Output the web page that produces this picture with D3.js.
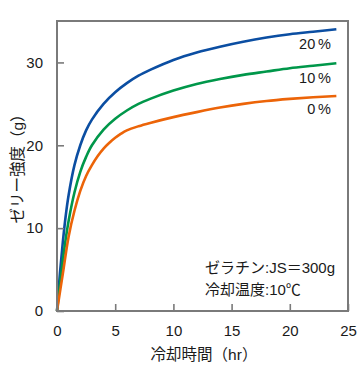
<!DOCTYPE html>
<html><head><meta charset="utf-8">
<script src="https://cdn.jsdelivr.net/npm/d3@7"></script>
<style>
body{margin:0;background:#fff;}
text{font-family:"Liberation Sans",Arial,"Noto Sans CJK JP",sans-serif;fill:#1a1a1a;}
</style></head>
<body><svg id="c" width="360" height="365"></svg>
<script>
const xTicks=[0,5,10,15,20,25];
const yTicks=[0,10,20,30];
const hoursB=[0,0.25,0.5,0.75,1,1.5,2,2.5,3,4,5,6,7,8,10,12,14,16,18,20,22,24];
const s20=[0,4.5,8.3,11.5,14,17.6,20,21.8,23.1,25,26.4,27.5,28.4,29.1,30.3,31.2,31.9,32.5,33,33.4,33.7,34.0];
const hoursG=[0,0.25,0.5,0.75,1,1.5,2,2.5,3,4,5,6,7,8,10,12,14,16,18,20,22,24];
const s10=[0,3.2,6.1,8.7,10.9,14.3,16.8,18.6,20,21.9,23.2,24.2,25,25.6,26.6,27.4,28,28.5,28.9,29.3,29.6,29.9];
const hoursO=[0,0.5,1,1.5,2,2.5,3,3.5,4,4.5,5,5.5,6,7,8,10,12,14,16,18,20,22,24];
const s0=[0,4.5,9.0,12.1,14.5,16.3,17.6,18.7,19.6,20.3,20.9,21.4,21.8,22.3,22.7,23.4,24.0,24.55,25.0,25.35,25.6,25.8,25.95];
const seriesNames=["20\u2009%","10\u2009%","0\u2009%"];
const colors=["#0b4ea2","#00974a","#ec6408"];
const xTitle="冷却時間（hr）";
const yTitle="ゼリー強度（g）";
const note1="ゼラチン:JS＝300g";
const note2="冷却温度:10℃";

const svg=d3.select("#c");
const L=57,R=348,T=21,B=311;
const x=d3.scaleLinear().domain([0,25]).range([L,R]);
const y=d3.scaleLinear().domain([0,35]).range([B,T]);

const data=[
  hoursB.map((h,i)=>[h,s20[i]]),
  hoursG.map((h,i)=>[h,s10[i]]),
  hoursO.map((h,i)=>[h,s0[i]])
];
const line=d3.line().x(d=>x(d[0])).y(d=>y(d[1])).curve(d3.curveCatmullRom.alpha(0.5));
svg.selectAll("path.s").data(data).join("path").attr("class","s")
  .attr("d",line).attr("fill","none").attr("stroke",(d,i)=>colors[i]).attr("stroke-width",2.6);

// frame
svg.append("rect").attr("x",L).attr("y",T).attr("width",R-L).attr("height",B-T)
  .attr("fill","none").attr("stroke","#7a7a7a").attr("stroke-width",2);

// x axis
const xa=svg.append("g").attr("transform",`translate(0,${B})`)
  .call(d3.axisBottom(x).tickValues(xTicks).tickSize(-7).tickPadding(14).tickFormat(d3.format("d")));
xa.select(".domain").remove();
xa.selectAll("line").attr("stroke","#7a7a7a").attr("stroke-width",1.6);
xa.selectAll("text").attr("font-size",15).attr("fill","#1a1a1a");

const ya=svg.append("g").attr("transform",`translate(${L},0)`)
  .call(d3.axisLeft(y).tickValues(yTicks).tickSize(-7).tickPadding(14).tickFormat(d3.format("d")));
ya.select(".domain").remove();
ya.selectAll("line").attr("stroke","#7a7a7a").attr("stroke-width",1.6);
ya.selectAll("text").attr("font-size",15).attr("fill","#1a1a1a");

// series labels
const lblY=[49,83,114];
seriesNames.forEach((n,i)=>{
  svg.append("text").attr("x",331).attr("y",lblY[i]).attr("text-anchor","end")
    .attr("font-size",14.5).text(n);
});

// notes
svg.append("text").attr("x",205).attr("y",273).attr("font-size",15).text(note1);
svg.append("text").attr("x",205).attr("y",295).attr("font-size",15).text(note2);

// titles
svg.append("text").attr("x",204).attr("y",360).attr("text-anchor","middle").attr("font-size",15.5).text(xTitle);
svg.append("text").attr("transform","translate(23,165) rotate(-90)").attr("text-anchor","middle").attr("font-size",15.5).text(yTitle);
</script></body></html>
